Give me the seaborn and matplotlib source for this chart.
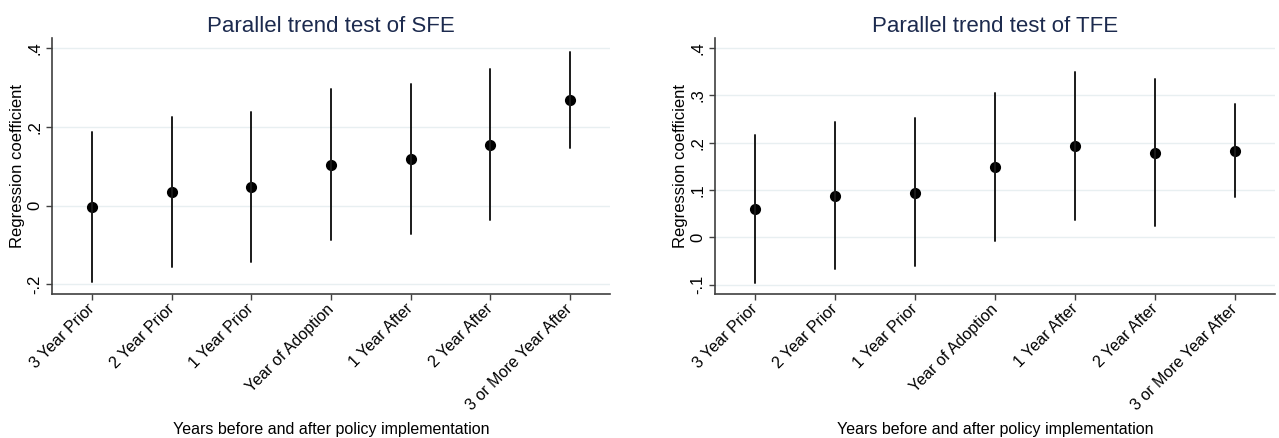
import numpy as np
import pandas as pd
import matplotlib
matplotlib.use("Agg")
import matplotlib.pyplot as plt
import seaborn as sns

categories = ["3 Year Prior", "2 Year Prior", "1 Year Prior", "Year of Adoption",
              "1 Year After", "2 Year After", "3 or More Year After"]

sfe_coef = [-0.003, 0.034, 0.047, 0.103, 0.119, 0.155, 0.268]
sfe_lo = [-0.195, -0.157, -0.144, -0.087, -0.073, -0.036, 0.147]
sfe_hi = [0.188, 0.225, 0.239, 0.296, 0.310, 0.347, 0.390]

tfe_coef = [0.060, 0.088, 0.094, 0.149, 0.192, 0.179, 0.183]
tfe_lo = [-0.096, -0.067, -0.061, -0.007, 0.036, 0.023, 0.085]
tfe_hi = [0.216, 0.244, 0.251, 0.304, 0.349, 0.335, 0.282]

sfe_ticks = [-0.2, 0, 0.2, 0.4]
sfe_ticklabels = ["-.2", "0", ".2", ".4"]
tfe_ticks = [-0.1, 0, 0.1, 0.2, 0.3, 0.4]
tfe_ticklabels = ["-.1", "0", ".1", ".2", ".3", ".4"]

titles = ["Parallel trend test of SFE", "Parallel trend test of TFE"]
xlabel = "Years before and after policy implementation"
ylabel = "Regression coefficient"


def long_frame(coef, lo, hi):
    rows = []
    for c, e, l, h in zip(categories, coef, lo, hi):
        for v in (l, e, h):
            rows.append({"period": c, "value": v})
    return pd.DataFrame(rows)


sns.set_theme(style="white")
plt.rcParams["font.family"] = ["Liberation Sans", "DejaVu Sans"]

fig = plt.figure(figsize=(12.79, 4.38), dpi=100)
ax1 = fig.add_axes([52.2 / 1279, 1 - 294 / 438, (610 - 52.2) / 1279, 256 / 438])
ax2 = fig.add_axes([715.1 / 1279, 1 - 294 / 438, (1275 - 715.1) / 1279, 256 / 438])

panels = [
    (ax1, sfe_coef, sfe_lo, sfe_hi, sfe_ticks, sfe_ticklabels, (-0.2247, 0.426)),
    (ax2, tfe_coef, tfe_lo, tfe_hi, tfe_ticks, tfe_ticklabels, (-0.1197, 0.421)),
]

for i, (ax, coef, lo, hi, yt, ytl, ylim) in enumerate(panels):
    df = long_frame(coef, lo, hi)
    sns.pointplot(data=df, x="period", y="value", order=categories,
                  estimator="median", errorbar=("pi", 100),
                  linestyle="none", markers="o", color="black",
                  markersize=6, err_kws={"linewidth": 1.4, "color": "#1a1a1a"},
                  capsize=0, ax=ax, zorder=3)
    ax.set_xlim(-0.5, 6.5)
    ax.set_ylim(*ylim)
    ax.set_yticks(yt)
    ax.set_yticklabels(ytl, rotation=90, va="center", fontsize=12)
    ax.set_xticks(range(len(categories)))
    ax.set_xticklabels(categories, rotation=45, ha="right", va="center",
                       rotation_mode="anchor", fontsize=11.5)
    ax.grid(axis="y", color="#e8eff1", linewidth=1.0)
    ax.set_axisbelow(True)
    for s in ["top", "right"]:
        ax.spines[s].set_visible(False)
    for s in ["left", "bottom"]:
        ax.spines[s].set_color("#404040")
        ax.spines[s].set_linewidth(1.2)
    ax.tick_params(axis="y", which="major", direction="out", length=4,
                   width=1.0, color="#404040", left=True,
                   labelcolor="black", pad=3)
    ax.tick_params(axis="x", which="major", direction="out", length=4,
                   width=1.0, color="#404040", bottom=True,
                   labelcolor="black", pad=5)
    ax.set_title(titles[i], fontsize=16, color="#1c2a4e", pad=4.5)
    ax.set_ylabel(ylabel, fontsize=12, color="black", labelpad=2)
    ax.set_xlabel("")
    x0 = ax.get_position().x0
    x1 = ax.get_position().x1
    fig.text((x0 + x1) / 2, 1 - 437 / 438, xlabel, ha="center", va="bottom",
             fontsize=11.5, color="black")

fig.savefig("out.png", dpi=100, facecolor="white")
